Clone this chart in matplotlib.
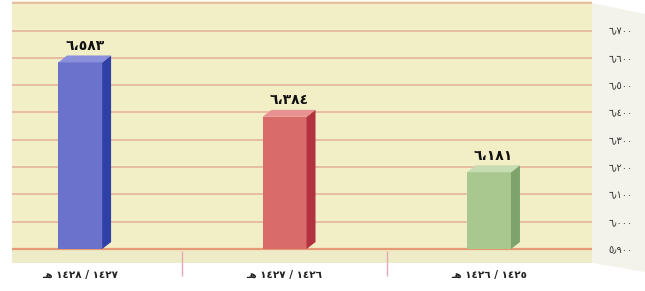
import numpy as np
import matplotlib
matplotlib.use("Agg")
import matplotlib.pyplot as plt
from matplotlib.patches import Polygon
from matplotlib.ticker import FixedLocator

# --------------------------
# Data
# --------------------------
years = ["ـﻫ ١٤٢٨ / ١٤٢٧", "ـﻫ ١٤٢٧ / ١٤٢٦", "ـﻫ ١٤٢٦ / ١٤٢٥"]
values = [6.583, 6.384, 6.181]
value_labels = ["٦،٥٨٣", "٦،٣٨٤", "٦،١٨١"]
yticks = [5.9, 6.0, 6.1, 6.2, 6.3, 6.4, 6.5, 6.6, 6.7]
ytick_labels = ["٥٫٩٠٠", "٦٫٠٠٠", "٦٫١٠٠", "٦٫٢٠٠", "٦٫٣٠٠",
                "٦٫٤٠٠", "٦٫٥٠٠", "٦٫٦٠٠", "٦٫٧٠٠"]

front_cols = ["#6b72cc", "#d96b6b", "#a9c890"]
side_cols = ["#2f3fa8", "#b3323f", "#7fa36c"]
top_cols = ["#8a90dc", "#e99292", "#c6dcb2"]

plt.rcParams['font.family'] = ['DejaVu Sans']

W, H = 645, 291
fig = plt.figure(figsize=(W / 100, H / 100), dpi=100)

# right side panel of the 3D box (behind the axes and its labels)
fig.patches.append(Polygon([(592 / W, 1 - 3 / H), (645 / W, 1 - 14 / H),
                            (645 / W, 1 - 272 / H), (592 / W, 1 - 263 / H)],
                           closed=True, transform=fig.transFigure,
                           facecolor="#f4f3eb", edgecolor="none", zorder=-1))

ax = fig.add_axes([12 / W, 1 - 263 / H, 580 / W, 262 / H])
ax.set_facecolor("#f2eec6")
base = 5.9
ax.set_xlim(-0.333, 2.504)
ax.set_ylim(5.849, 6.808)

# floor band
ax.axhspan(ax.get_ylim()[0], base, color="#edebc8", zorder=0)

# gridlines
for t in yticks[1:] + [6.8]:
    ax.axhline(t, color="#e5b9a0", lw=1.3, zorder=1)
ax.axhline(base, color="#e89a72", lw=1.6, zorder=1)

# 3D depth in data units
px_x = ax.bbox.width / (ax.get_xlim()[1] - ax.get_xlim()[0])
px_y = ax.bbox.height / (ax.get_ylim()[1] - ax.get_ylim()[0])
dx, dy = 9 / px_x, 7 / px_y
bw = 44 / px_x

x = np.arange(len(values))
ax.bar(x, [v - base for v in values], bottom=base, width=bw,
       color=front_cols, zorder=3)
for xi, v, sc, tc in zip(x, values, side_cols, top_cols):
    r, l = xi + bw / 2, xi - bw / 2
    ax.add_patch(Polygon([(r, base), (r, v), (r + dx, v + dy), (r + dx, base + dy)],
                         closed=True, facecolor=sc, edgecolor="none", zorder=3))
    ax.add_patch(Polygon([(l, v), (r, v), (r + dx, v + dy), (l + dx, v + dy)],
                         closed=True, facecolor=tc, edgecolor="none", zorder=3))

for xi, v, lab in zip(x, values, value_labels):
    ax.annotate(lab, (xi + dx / 2, v + dy), xytext=(0, 2), textcoords="offset points",
                ha="center", va="bottom", fontsize=10, fontweight="bold",
                color="#111111", zorder=5)

# axes / ticks
for s in ax.spines.values():
    s.set_visible(False)
ax.yaxis.tick_right()
ax.set_yticks(yticks)
ax.set_yticklabels(ytick_labels, fontsize=7, color="#333333")
ax.tick_params(axis="y", length=0, pad=12)

ax.set_xticks(x)
ax.set_xticklabels(years, fontsize=7.5, fontweight="bold", color="#222222")
ax.xaxis.set_minor_locator(FixedLocator([0.5, 1.5]))
ax.tick_params(axis="x", which="major", length=0, pad=5)
ax.tick_params(axis="x", which="minor", length=18, width=1,
               color="#e8a8b8", direction="inout")

fig.savefig("out.png", dpi=100)
